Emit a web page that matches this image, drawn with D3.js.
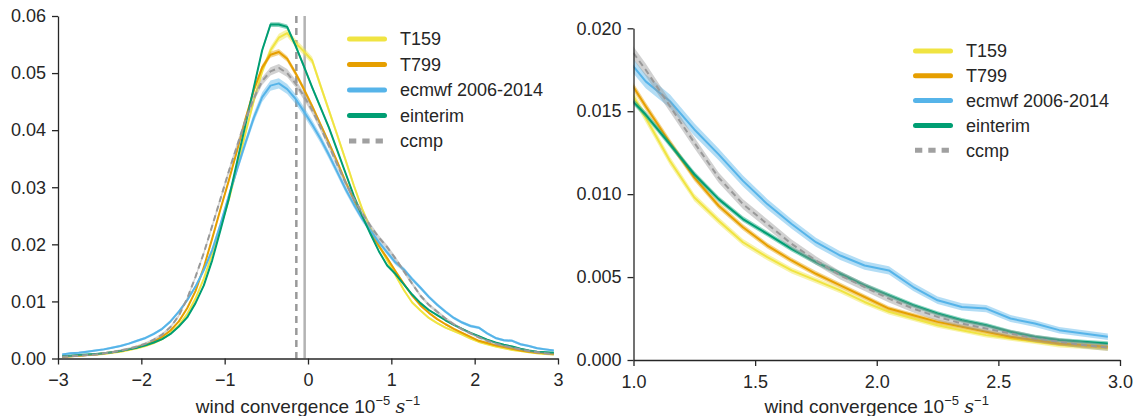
<!DOCTYPE html>
<html>
<head>
<meta charset="utf-8">
<script src="https://cdn.jsdelivr.net/npm/d3@7"></script>
<style>
  body { margin: 0; background: #fff; }
  text { font-family: "Liberation Sans", Arial, sans-serif; fill: #262626; }
</style>
</head>
<body>
<svg id="chart" width="1136" height="416"></svg>
<script>
// bin centres of the wind convergence histogram (10^-5 s^-1)
var binCentres = [
  -2.95, -2.85, -2.75, -2.65, -2.55, -2.45, -2.35, -2.25, -2.15, -2.05,
  -1.95, -1.85, -1.75, -1.65, -1.55, -1.45, -1.35, -1.25, -1.15, -1.05,
  -0.95, -0.85, -0.75, -0.65, -0.55, -0.45, -0.35, -0.25, -0.15, -0.05,
   0.05,  0.15,  0.25,  0.35,  0.45,  0.55,  0.65,  0.75,  0.85,  0.95,
   1.05,  1.15,  1.25,  1.35,  1.45,  1.55,  1.65,  1.75,  1.85,  1.95,
   2.05,  2.15,  2.25,  2.35,  2.45,  2.55,  2.65,  2.75,  2.85,  2.95
];

var seriesNames = ["T159", "T799", "ecmwf 2006-2014", "einterim", "ccmp"];

var densT159 = [
  0.0003, 0.0004, 0.0005, 0.0006, 0.0007, 0.0008, 0.0010, 0.0012, 0.0015, 0.0018,
  0.0022, 0.0027, 0.0034, 0.0044, 0.0058, 0.0078, 0.0105, 0.0140, 0.0183, 0.0230,
  0.0278, 0.0335, 0.0395, 0.0452, 0.0503, 0.0540, 0.0562, 0.0570, 0.0553, 0.0538,
  0.0522, 0.0478, 0.0435, 0.0392, 0.0348, 0.0303, 0.0262, 0.0228, 0.0198, 0.0172,
  0.0146, 0.0120, 0.0098, 0.0084, 0.0071, 0.0062, 0.0054, 0.0048, 0.0042, 0.0035,
  0.0029, 0.0025, 0.0021, 0.0018, 0.0015, 0.0013, 0.0011, 0.0009, 0.0008, 0.0007
];

var densT799 = [
  0.0003, 0.0004, 0.0005, 0.0006, 0.0007, 0.0009, 0.0011, 0.0013, 0.0016, 0.0020,
  0.0024, 0.0030, 0.0038, 0.0049, 0.0065, 0.0088, 0.0118, 0.0160, 0.0210, 0.0262,
  0.0312, 0.0365, 0.0420, 0.0470, 0.0510, 0.0532, 0.0537, 0.0525, 0.0500, 0.0472,
  0.0442, 0.0410, 0.0378, 0.0345, 0.0310, 0.0278, 0.0248, 0.0222, 0.0197, 0.0176,
  0.0153, 0.0131, 0.0110, 0.0093, 0.0080, 0.0069, 0.0060, 0.0052, 0.0045, 0.0038,
  0.0031, 0.0027, 0.0023, 0.0020, 0.0017, 0.0014, 0.0012, 0.0010, 0.0009, 0.0008
];

var densEcmwf = [
  0.0007, 0.0009, 0.0010, 0.0012, 0.0014, 0.0016, 0.0019, 0.0022, 0.0026, 0.0031,
  0.0036, 0.0043, 0.0052, 0.0065, 0.0082, 0.0102, 0.0126, 0.0155, 0.0190, 0.0235,
  0.0285, 0.0332, 0.0378, 0.0422, 0.0458, 0.0478, 0.0482, 0.0472, 0.0455, 0.0433,
  0.0410, 0.0385, 0.0357, 0.0327, 0.0297, 0.0270, 0.0245, 0.0224, 0.0204, 0.0186,
  0.0168, 0.0156, 0.0139, 0.0124, 0.0108, 0.0094, 0.0082, 0.0071, 0.0063, 0.0057,
  0.0054, 0.0044, 0.0036, 0.0032, 0.0031, 0.0025, 0.0022, 0.0018, 0.0016, 0.0014
];

var densEinterim = [
  0.0004, 0.0005, 0.0006, 0.0007, 0.0008, 0.0009, 0.0011, 0.0013, 0.0016, 0.0019,
  0.0023, 0.0028, 0.0034, 0.0043, 0.0056, 0.0072, 0.0097, 0.0128, 0.0172, 0.0225,
  0.0280, 0.0345, 0.0410, 0.0475, 0.0540, 0.0585, 0.0585, 0.0581, 0.0548, 0.0512,
  0.0475, 0.0440, 0.0405, 0.0365, 0.0325, 0.0285, 0.0250, 0.0218, 0.0188, 0.0163,
  0.0148, 0.0130, 0.0112, 0.0097, 0.0085, 0.0076, 0.0067, 0.0059, 0.0052, 0.0045,
  0.0039, 0.0033, 0.0028, 0.0024, 0.0021, 0.0017, 0.0014, 0.0012, 0.0011, 0.0010
];

var densCcmp = [
  0.0003, 0.0004, 0.0005, 0.0006, 0.0007, 0.0009, 0.0011, 0.0014, 0.0017, 0.0021,
  0.0026, 0.0033, 0.0042, 0.0055, 0.0075, 0.0105, 0.0143, 0.0185, 0.0232, 0.0280,
  0.0328, 0.0373, 0.0418, 0.0456, 0.0486, 0.0503, 0.0509, 0.0500, 0.0482, 0.0460,
  0.0435, 0.0405, 0.0373, 0.0340, 0.0308, 0.0280, 0.0255, 0.0232, 0.0212, 0.0195,
  0.0175, 0.0153, 0.0131, 0.0110, 0.0094, 0.0082, 0.0070, 0.0060, 0.0051, 0.0044,
  0.0037, 0.0031, 0.0026, 0.0022, 0.0019, 0.0016, 0.0013, 0.0011, 0.0009, 0.00075
];

// half-width of the shaded spread: relative part + floor, per series
var spreadRel = [0.010, 0.0075, 0.015, 0.005, 0.010];
var spreadAbs = [0.00013, 0.00012, 0.00017, 0.00012, 0.00020];

// mean convergence markers (left panel): ccmp dashed, model solid
var meanCcmp = -0.14;
var meanModel = -0.04;

var leftXTicks = [-3, -2, -1, 0, 1, 2, 3];
var leftYTicks = [0, 0.01, 0.02, 0.03, 0.04, 0.05, 0.06];
var rightXTicks = [1.0, 1.5, 2.0, 2.5, 3.0];
var rightYTicks = [0, 0.005, 0.010, 0.015, 0.020];

//***************************************************************************

var colors = ["#f0e442", "#e69f00", "#56b4e9", "#009e73", "#999999"];
var allDens = [densT159, densT799, densEcmwf, densEinterim, densCcmp];

var svg = d3.select("#chart");
var ink = "#262626";
var fontSize = 18;

function panel(opts) {
  var x = d3.scaleLinear().domain(opts.xDomain).range(opts.xRange);
  var y = d3.scaleLinear().domain(opts.yDomain).range(opts.yRange);
  var g = svg.append("g");

  var clipId = "clip" + opts.id;
  svg.append("clipPath").attr("id", clipId)
    .append("rect")
    .attr("x", opts.xRange[0]).attr("y", 0)
    .attr("width", opts.xRange[1] - opts.xRange[0])
    .attr("height", opts.yRange[0]);

  var plot = g.append("g").attr("clip-path", "url(#" + clipId + ")");

  if (opts.vlines) {
    plot.append("line")
      .attr("x1", x(meanCcmp)).attr("x2", x(meanCcmp))
      .attr("y1", opts.yRange[1]).attr("y2", opts.yRange[0])
      .attr("stroke", "#999999").attr("stroke-width", 2.5)
      .attr("stroke-dasharray", "7,5");
    plot.append("line")
      .attr("x1", x(meanModel)).attr("x2", x(meanModel))
      .attr("y1", opts.yRange[1]).attr("y2", opts.yRange[0])
      .attr("stroke", "#b3b3b3").attr("stroke-width", 2.5);
  }

  allDens.forEach(function(dens, s) {
    var pts = binCentres.map(function(c, i) { return {x: c, v: dens[i]}; });
    var half = function(d) { return d.v * spreadRel[s] + spreadAbs[s]; };
    var band = d3.area()
      .x(function(d) { return x(d.x); })
      .y0(function(d) { return y(d.v - half(d)); })
      .y1(function(d) { return y(d.v + half(d)); });
    var line = d3.line()
      .x(function(d) { return x(d.x); })
      .y(function(d) { return y(d.v); });

    plot.append("path").datum(pts)
      .attr("d", band)
      .attr("fill", colors[s]).attr("fill-opacity", 0.45);
    var p = plot.append("path").datum(pts)
      .attr("d", line)
      .attr("fill", "none")
      .attr("stroke", colors[s])
      .attr("stroke-width", 2)
      .attr("stroke-linejoin", "round");
    if (s === 4) p.attr("stroke-dasharray", "6,4");
  });

  // axes, spines trimmed to the tick range
  var xAxis = d3.axisBottom(x).tickValues(opts.xTicks)
    .tickFormat(d3.format(opts.xFmt)).tickSize(6).tickSizeOuter(0).tickPadding(9);
  var yAxis = d3.axisLeft(y).tickValues(opts.yTicks)
    .tickFormat(d3.format(opts.yFmt)).tickSize(6).tickSizeOuter(0).tickPadding(6);

  var gx = g.append("g").attr("transform", "translate(0," + opts.yRange[0] + ")").call(xAxis);
  var gy = g.append("g").attr("transform", "translate(" + opts.xRange[0] + ",0)").call(yAxis);
  [gx, gy].forEach(function(a) {
    a.selectAll("path, line").attr("stroke", ink).attr("stroke-width", 1.3);
    a.selectAll("text").attr("fill", ink).style("font-size", fontSize + "px")
      .style("font-family", "'Liberation Sans', Arial, sans-serif");
  });

  // x label
  var lab = g.append("text")
    .attr("x", x(opts.labelAt)).attr("y", 413)
    .attr("text-anchor", "middle")
    .style("font-size", "19px");
  lab.append("tspan").text("wind convergence 10");
  lab.append("tspan").attr("dy", -8).style("font-size", "13px").text("\u22125");
  lab.append("tspan").attr("dy", 8).text(" ");
  lab.append("tspan").style("font-family", "'DejaVu Serif', serif")
    .style("font-style", "italic").text("s");
  lab.append("tspan").attr("dy", -8).style("font-size", "13px").text("\u22121");

  // legend
  var lg = g.append("g");
  seriesNames.forEach(function(name, s) {
    var yy = opts.legend.y0 + s * opts.legend.dy;
    var ln = lg.append("line")
      .attr("y1", yy).attr("y2", yy)
      .attr("stroke", colors[s]).attr("stroke-width", 5);
    if (s === 4) {
      ln.attr("x1", opts.legend.x + 2).attr("x2", opts.legend.x + 36)
        .attr("stroke-dasharray", "7.3,6").attr("stroke", "#a0a0a0");
    } else {
      ln.attr("x1", opts.legend.x + 2.5).attr("x2", opts.legend.x + 37.5)
        .attr("stroke-linecap", "round");
    }
    lg.append("text")
      .attr("x", opts.legend.x + 53).attr("y", yy)
      .attr("dy", "0.35em")
      .style("font-size", fontSize + "px")
      .text(name);
  });
}

panel({
  id: "L",
  xDomain: [-3, 3], xRange: [58, 558],
  yDomain: [0, 0.06], yRange: [358.5, 16],
  xTicks: leftXTicks, yTicks: leftYTicks,
  xFmt: "d", yFmt: ".2f",
  labelAt: 0,
  vlines: true,
  legend: {x: 347, y0: 39, dy: 25.5}
});

panel({
  id: "R",
  xDomain: [1, 3], xRange: [633.5, 1120],
  yDomain: [0, 0.02], yRange: [360, 28.3],
  xTicks: rightXTicks, yTicks: rightYTicks,
  xFmt: ".1f", yFmt: ".3f",
  labelAt: 2,
  vlines: false,
  legend: {x: 913, y0: 51, dy: 24.8}
});
</script>
</body>
</html>
